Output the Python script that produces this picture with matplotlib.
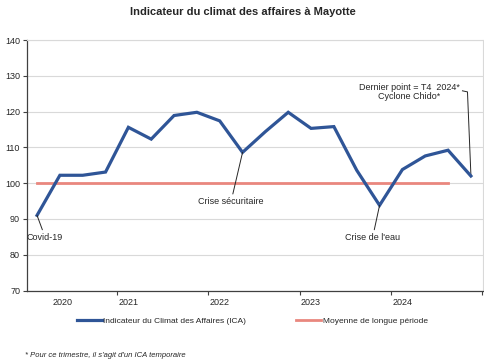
import matplotlib
matplotlib.use("Agg")
import matplotlib.pyplot as plt
import numpy as np

plt.rcParams['font.family'] = ['Liberation Sans', 'DejaVu Sans']

quarters = ["2020T1","2020T2","2020T3","2020T4","2021T1","2021T2","2021T3","2021T4",
            "2022T1","2022T2","2022T3","2022T4","2023T1","2023T2","2023T3","2023T4",
            "2024T1","2024T2","2024T3","2024T4"]
ica = [91.0, 102.2, 102.2, 103.1, 115.6, 112.3, 118.9, 119.8,
       117.4, 108.6, 114.4, 119.8, 115.3, 115.8, 103.6, 93.8,
       103.8, 107.6, 109.2, 102.0]
mean_value = 100
mean_span = 19  # number of quarters covered by the long-term mean line
years = ["2020", "2021", "2022", "2023", "2024"]

fig = plt.figure(figsize=(4.85, 3.6), dpi=100)
ax = fig.add_axes([27/485, 1-290.5/360, 456/485, (290.5-40)/360])

x = np.arange(len(ica))
ax.plot(x[:mean_span], [mean_value]*mean_span, color="#E9877E", lw=2.0, zorder=2,
        label="Moyenne de longue période")
ax.plot(x, ica, color="#2F5597", lw=2.3, zorder=3, solid_joinstyle="miter",
        label="Indicateur du Climat des Affaires (ICA)")

ax.set_xlim(-0.44, 19.53)
ax.set_ylim(70, 140)
ax.set_yticks(np.arange(70, 141, 10))
ax.yaxis.grid(True, color="#D9D9D9", lw=0.8)
ax.set_axisbelow(True)

# year boundary ticks
ax.set_xticks([3.5, 7.5, 11.5, 15.5, 19.5])
ax.set_xticklabels([])
ax.tick_params(axis="x", length=3, color="#404040", width=0.8)
ax.tick_params(axis="y", length=3, color="#404040", width=0.8, labelsize=6.5,
               labelcolor="#262626", pad=2)
label_pos = [1.1, 4, 8, 12, 16]
for xp, yr in zip(label_pos, years):
    ax.text(xp, -0.028, yr, transform=ax.get_xaxis_transform(), ha="center", va="top",
            fontsize=6.5, color="#262626")

for s in ["top", "right"]:
    ax.spines[s].set_color("#D9D9D9")
    ax.spines[s].set_linewidth(0.8)
for s in ["left", "bottom"]:
    ax.spines[s].set_color("#404040")
    ax.spines[s].set_linewidth(0.9)

# annotations
ann_kw = dict(fontsize=6.5, color="#262626", ha="center", va="top",
              arrowprops=dict(arrowstyle="-", color="#262626", lw=0.7, shrinkA=0, shrinkB=0))
ax.annotate("Covid-19", xy=(0, ica[0]), xytext=(0.35, 86.2), **ann_kw)
ax.annotate("Crise sécuritaire", xy=(9, ica[9]), xytext=(8.5, 96.2), **ann_kw)
ax.annotate("Crise de l'eau", xy=(15, ica[15]), xytext=(14.7, 86.2), **ann_kw)
ax.text(16.3, 125.6, "Dernier point = T4  2024*\nCyclone Chido*",
        fontsize=6.5, color="#262626", ha="center", va="center", linespacing=1.0)
ax.plot([19, 18.85, 18.63], [ica[19] + 0.3, 125.5, 125.8], color="#262626", lw=0.7)

fig.text(0.5, 1-12/360, "Indicateur du climat des affaires à Mayotte", ha="center", va="center",
         fontsize=8, fontweight="bold", color="#262626")

h, l = ax.get_legend_handles_labels()
fig.legend([h[1], h[0]], [l[1], l[0]], loc="center", bbox_to_anchor=(0.52, 1-321/360), ncol=2,
           frameon=False, fontsize=6.0, handlelength=3.0, handletextpad=0.2, columnspacing=6.0,
           labelcolor="#262626")

fig.text(25/485, 1-355.5/360, "* Pour ce trimestre, il s'agit d'un ICA temporaire", ha="left",
         va="center", fontsize=5.5, style="italic", color="#262626")

fig.savefig("out.png", dpi=100)
